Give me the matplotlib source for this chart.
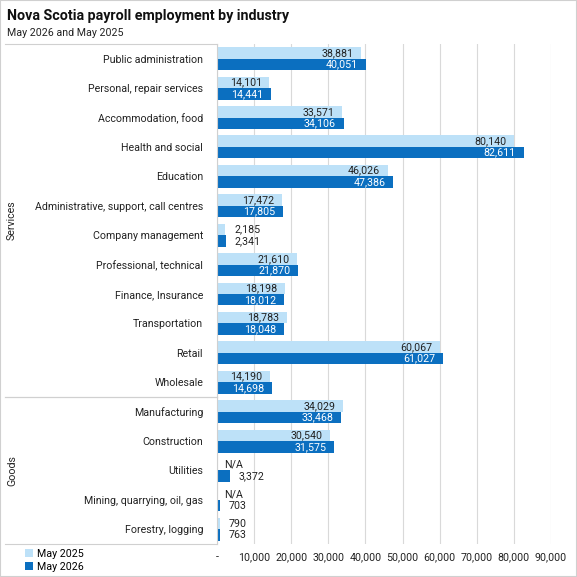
import numpy as np
import matplotlib.pyplot as plt
from matplotlib.lines import Line2D

plt.rcParams['font.family'] = ['Roboto', 'DejaVu Sans']

industries = [
    'Public administration', 'Personal, repair services', 'Accommodation, food',
    'Health and social', 'Education', 'Administrative, support, call centres',
    'Company management', 'Professional, technical', 'Finance, Insurance',
    'Transportation', 'Retail', 'Wholesale',
    'Manufacturing', 'Construction', 'Utilities',
    'Mining, quarrying, oil, gas', 'Forestry, logging',
]
may_2025 = [38881, 14101, 33571, 80140, 46026, 17472, 2185, 21610, 18198,
            18783, 60067, 14190, 34029, 30540, np.nan, np.nan, 790]
may_2026 = [40051, 14441, 34106, 82611, 47386, 17805, 2341, 21870, 18012,
            18048, 61027, 14698, 33468, 31575, 3372, 703, 763]
groups = [('Services', 0, 12), ('Goods', 12, 17)]
xticks = [0, 10000, 20000, 30000, 40000, 50000, 60000, 70000, 80000, 90000]

light = '#BDE1F8'
dark = '#0B6FC0'

W, H = 577, 577
TOP, BOT = 44, 544
fig = plt.figure(figsize=(W / 100, H / 100), dpi=100)
ax = fig.add_axes([217 / W, 1 - BOT / H, 334 / W, (BOT - TOP) / H])

y = np.arange(len(industries))
h = 0.39
ax.barh(y - h / 2, may_2025, height=h, color=light, label='May 2025')
ax.barh(y + h / 2, may_2026, height=h, color=dark, label='May 2026')

ax.set_ylim(len(industries) - 0.5, -0.5)
ax.set_xlim(0, 90000)
ax.set_yticks(y)
ax.set_yticklabels(industries, fontsize=7.7, color='#222222')
ax.set_xticks(xticks)
ax.set_xticklabels(['-'] + [f'{v:,}' for v in xticks[1:]], fontsize=7.7, color='#222222')
ax.tick_params(length=0, pad=10)
ax.tick_params(axis='x', pad=6)
ax.grid(axis='x', color='#d9d9d9', linewidth=0.8)
ax.set_axisbelow(True)
for s in ['top', 'right', 'bottom']:
    ax.spines[s].set_visible(False)
ax.spines['left'].set_color('#d0d0d0')


def add_labels(vals, offs, txt_color):
    for yi, v in zip(y, vals):
        if np.isnan(v):
            ax.annotate('N/A', (0, yi + offs), xytext=(5, 0), textcoords='offset points',
                        va='center', ha='left', fontsize=7.7, color='#222222')
        elif v > 10000:
            ax.annotate(f'{v:,.0f}', (v, yi + offs), xytext=(-5.5, 0), textcoords='offset points',
                        va='center', ha='right', fontsize=7.7, color=txt_color)
        else:
            ax.annotate(f'{v:,.0f}', (v, yi + offs), xytext=(6.5, 0), textcoords='offset points',
                        va='center', ha='left', fontsize=7.7, color='#222222')


add_labels(may_2025, -h / 2, '#222222')
add_labels(may_2026, h / 2, 'white')

# group separators and labels
row_px = (BOT - TOP) / len(industries)
for name, a, b in groups:
    top = TOP + a * row_px
    bot = TOP + b * row_px
    fig.add_artist(Line2D([5 / W, 217 / W], [1 - top / H, 1 - top / H],
                          color='#d0d0d0', linewidth=0.8))
    fig.add_artist(Line2D([5 / W, 217 / W], [1 - bot / H, 1 - bot / H],
                          color='#d0d0d0', linewidth=0.8))
    fig.text(12 / W, 1 - (top + bot) / 2 / H, name, rotation=90, ha='center',
             va='center', fontsize=7.7, color='#222222')

fig.text(7 / W, 1 - 16 / H, 'Nova Scotia payroll employment by industry',
         fontsize=10.3, fontweight='bold', va='center', color='#111111')
fig.text(7 / W, 1 - 33 / H, 'May 2026 and May 2025', fontsize=7.7, va='center',
         color='#222222')

fig.legend(loc='lower left', bbox_to_anchor=(20 / W, 0), frameon=False, fontsize=7.7,
           handlelength=0.7, handleheight=0.7, handletextpad=0.4, labelspacing=0.25,
           borderaxespad=0.1)

fig.add_artist(plt.Rectangle((0, 0), 1, 1, transform=fig.transFigure, fill=False,
                             edgecolor='#d0d0d0', linewidth=1.5))

fig.savefig('out.png', dpi=100)
